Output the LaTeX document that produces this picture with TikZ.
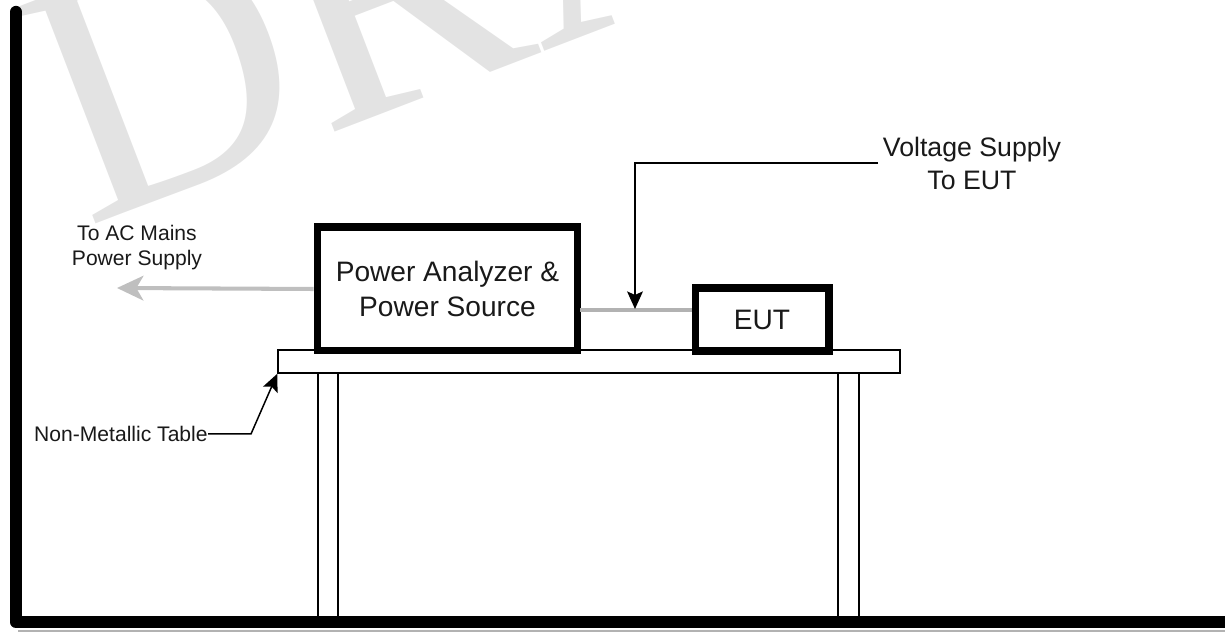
\documentclass[tikz,border=0pt]{standalone}
\usepackage{fontspec}
\setmainfont{Liberation Sans}
\newfontfamily\wmfont{Liberation Serif}
\usetikzlibrary{arrows.meta,calc}
\begin{document}
\begin{tikzpicture}[x=0.02cm,y=-0.02cm,
  wm/.style={anchor=base west, rotate=21, inner sep=0pt, text=black!11,
    font=\wmfont\fontsize{200}{200}\selectfont},
  thickbox/.style={draw=black, line width=4pt, fill=white, inner sep=0pt,
    align=center, text=black!90, font=\fontsize{16}{20}\selectfont},
  thin/.style={draw=black, line width=0.85pt},
  lbl/.style={inner sep=0pt, align=center, text=black!90},
  graywire/.style={draw=black!30, line width=2.3pt},
  blackhead/.style={-{Stealth[length=10pt,width=9pt,inset=2pt]}},
  grayhead/.style={-{Stealth[length=15pt,width=14pt,inset=4pt]}}
]
\useasboundingbox (0,0) rectangle (1225,634);
% watermark
\begin{scope}
  \clip (0,0) rectangle (1225,634);
  \node[wm] (wmark) at (86,228) {DRAFT};
\end{scope}
% table legs
\draw[thin] (318,373) -- (318,620) (338,373) -- (338,620);
\draw[thin] (838,373) -- (838,620) (859,373) -- (859,620);
% table top
\node[thin, fill=white, minimum width=12.44cm, minimum height=0.46cm, inner sep=0pt] (table) at (589,361.5) {};
% floor shadow, wall and floor
\draw[draw=black!30, line width=1.5pt] (18,631) -- (1230,631);
\draw[line width=7pt, line cap=round, line join=round] (16,12) -- (16,622) -- (1230,622);
% boxes
\node[thickbox, minimum width=5.22cm, minimum height=2.48cm] (pa) at (447.5,289) {Power Analyzer \&\\Power Source};
\node[thickbox, minimum width=2.68cm, minimum height=1.26cm] (eut) at (762,319.5) {EUT};
% gray wire between boxes
\coordinate (w1) at (580,310);
\draw[graywire] (w1) -- (eut.west |- w1);
% AC mains arrow
\coordinate (actip) at (117,288);
\draw[graywire, grayhead, draw=black!25] (pa.west) -- (actip);
\node[lbl, font=\fontsize{12}{14}\selectfont] (aclbl) at (137,247.5) {To AC Mains\\Power Supply};
% voltage supply label and arrow
\node[lbl, font=\fontsize{15.2}{18.7}\selectfont] (vlbl) at (972,163.5) {Voltage Supply\\To EUT};
\coordinate (vstart) at (878,163);
\coordinate (vtip) at (635,309);
\draw[thin, blackhead] (vstart) -- (vtip |- vstart) -- (vtip);
% non-metallic table
\node[lbl, font=\fontsize{12}{14}\selectfont, anchor=east] (nm) at (208,434) {Non-Metallic Table};
\draw[thin, blackhead] (nm.east) -- (251,434) -- (table.south west);
\end{tikzpicture}
\end{document}
